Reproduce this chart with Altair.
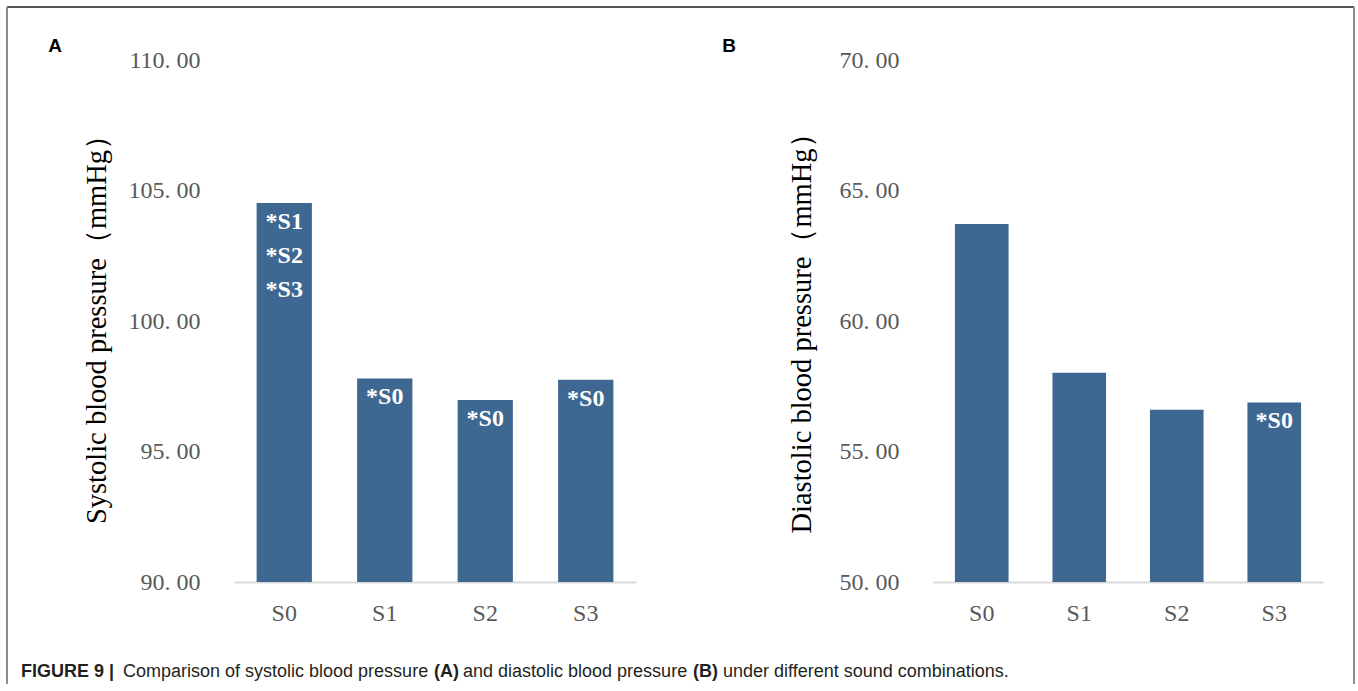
import altair as alt
import pandas as pd

# Sound combinations and mean blood pressure per combination (mmHg)
groups = ["S0", "S1", "S2", "S3"]
systolic = [104.52, 97.80, 96.97, 97.75]
diastolic = [63.72, 58.02, 56.60, 56.88]

# Significance notes printed inside the bars
systolic_notes = ["*S1\n*S2\n*S3", "*S0", "*S0", "*S0"]
diastolic_notes = ["", "", "", "*S0"]

# Axis tick values
systolic_ticks = [90, 95, 100, 105, 110]
diastolic_ticks = [50, 55, 60, 65, 70]

BAR = "#3e6891"
SERIF = "Liberation Serif"
SANS = "Liberation Sans"
LABEL_GREY = "#595959"
ONE = pd.DataFrame({"k": [0]})


def panel(values, notes, ticks, title, width, title_x, title_y):
    df = pd.DataFrame({"group": groups, "value": values, "note": notes})
    x = alt.X(
        "group:N",
        sort=groups,
        scale=alt.Scale(paddingInner=0.45, paddingOuter=0.225),
        axis=alt.Axis(
            title=None, labelAngle=0, labelFont=SERIF, labelFontSize=24,
            labelColor=LABEL_GREY, labelPadding=19, ticks=False, tickSize=0,
            domainColor="#d9d9d9", domainWidth=2, grid=False,
        ),
    )
    y = alt.Y(
        "value:Q",
        scale=alt.Scale(domain=[ticks[0], ticks[-1]], zero=False, nice=False),
        axis=alt.Axis(
            values=ticks, title=title, grid=False, domain=False, ticks=False,
            tickSize=0, labelPadding=34, labelFont=SERIF, labelFontSize=24,
            labelColor=LABEL_GREY,
            labelExpr="replace(format(datum.value, '.2f'), '.', '. ')",
            titleFont=SERIF, titleFontSize=28.5, titleFontWeight="normal",
            titleColor="#000000", titleAngle=-90, titleAlign="center",
            titleBaseline="middle", titleX=title_x, titleY=title_y,
        ),
    )
    # bars rise from the bottom of the value axis
    bars = alt.Chart(df).mark_bar(color=BAR).encode(
        x=x, y=y, y2=alt.datum(ticks[0]))
    labels = alt.Chart(df).mark_text(
        font=SERIF, fontWeight="bold", fontSize=24, color="white",
        baseline="top", dy=7, lineBreak="\n", lineHeight=34,
    ).encode(x=x, y=y, text="note:N")
    return [bars, labels], width


def letter(txt, x):
    return alt.Chart(ONE).mark_text(
        text=txt, font=SANS, fontWeight="bold", fontSize=19, color="#000000",
        align="center", baseline="middle",
    ).encode(x=alt.value(x), y=alt.value(-14))


# Figure frame (top, left and right edges)
frame = [
    alt.Chart(ONE).mark_rule(color="#555555", strokeWidth=2).encode(
        x=alt.value(-227), x2=alt.value(1120), y=alt.value(-53)),
    alt.Chart(ONE).mark_rule(color="#8c8c8c", strokeWidth=2).encode(
        x=alt.value(-227), y=alt.value(-53), y2=alt.value(624)),
    alt.Chart(ONE).mark_rule(color="#8c8c8c", strokeWidth=2).encode(
        x=alt.value(1120), y=alt.value(-53), y2=alt.value(624)),
]

# Figure caption, written in runs of bold and regular text
caption_runs = [
    ("FIGURE 9 |", "bold", -213),
    ("Comparison of systolic blood pressure", "normal", -111),
    ("(A)", "bold", 200),
    ("and diastolic blood pressure", "normal", 229),
    ("(B)", "bold", 459),
    ("under different sound combinations.", "normal", 489),
]
caption = [
    alt.Chart(ONE).mark_text(
        text=t, font=SANS, fontWeight=w, fontSize=18, color="#231f20",
        align="left", baseline="middle",
    ).encode(x=alt.value(px), y=alt.value(612))
    for t, w, px in caption_runs
]

layers_a, width_a = panel(systolic, systolic_notes, systolic_ticks,
                          "Systolic blood pressure（mmHg）", 402, -138, 262)
layers_b, width_b = panel(diastolic, diastolic_notes, diastolic_ticks,
                          "Diastolic blood pressure（mmHg）", 390, -132, 266)

chart_a = alt.layer(*frame, *layers_a, letter("A", -179), *caption).properties(
    width=width_a, height=522)
chart_b = alt.layer(*layers_b, letter("B", -204)).properties(
    width=width_b, height=522)

chart = alt.hconcat(chart_a, chart_b, spacing=297, bounds="flush").properties(
    padding={"left": 6, "top": 6, "right": 0, "bottom": 0},
    background="white",
).configure_view(stroke=None)

chart.save("out.html", embed_options={"renderer": "svg", "actions": False})
